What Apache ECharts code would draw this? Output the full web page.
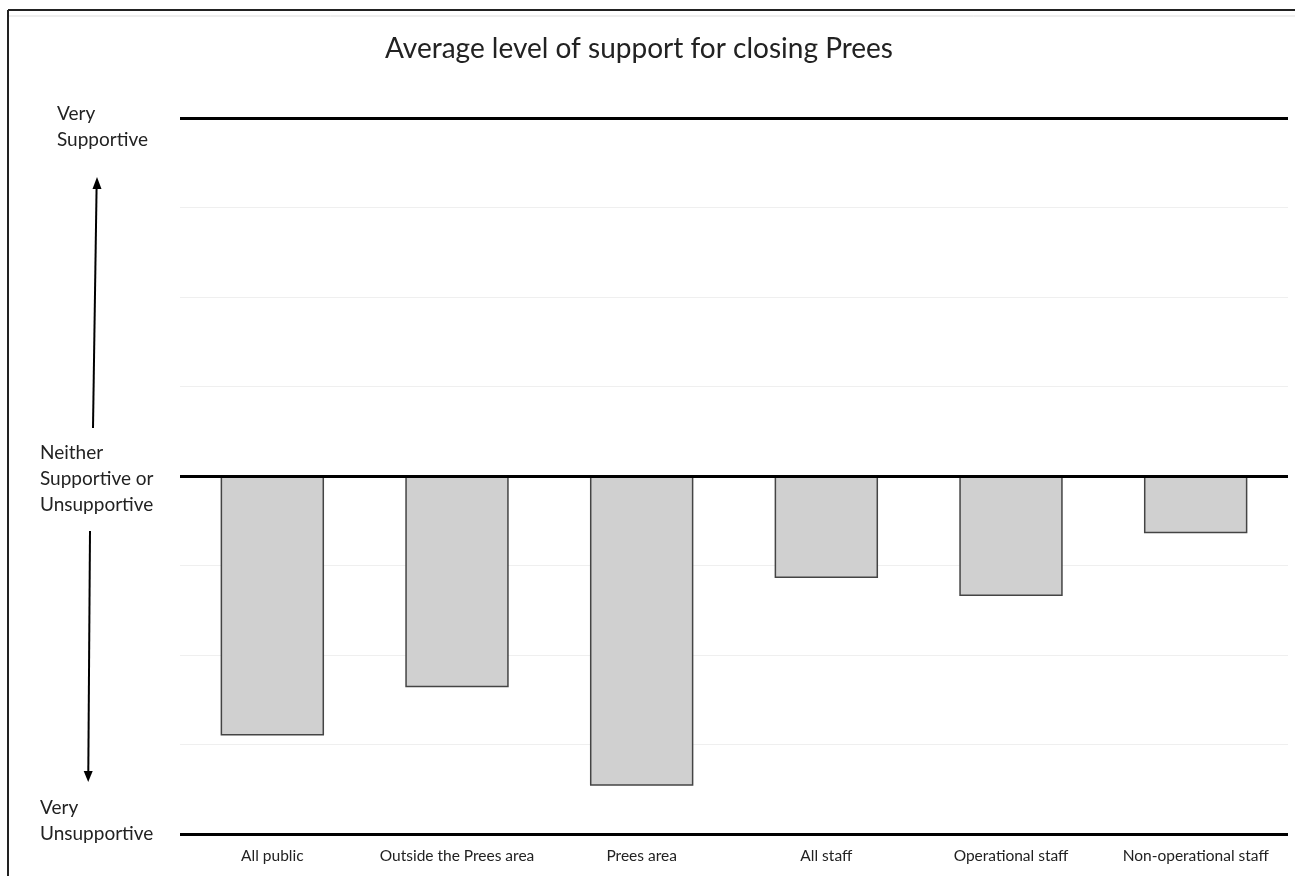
<!DOCTYPE html>
<html>
<head>
<meta charset="utf-8">
<script src="https://cdn.jsdelivr.net/npm/echarts@6/dist/echarts.min.js"></script>
<style>
  html, body { margin: 0; padding: 0; background: #fff; }
  #chart { width: 1295px; height: 876px; }
</style>
</head>
<body>
<div id="chart"></div>
<script>
// Groups surveyed
const categories = ['All public', 'Outside the Prees area', 'Prees area', 'All staff', 'Operational staff', 'Non-operational staff'];
// Average support score: -2 = very unsupportive, 0 = neutral, +2 = very supportive
const supportScores = [-1.45, -1.18, -1.73, -0.57, -0.67, -0.32];
// Scale anchors and their wording
const scaleValues = [2, 0, -2];
const scaleLabels = ['Very\nSupportive', 'Neither\nSupportive or\nUnsupportive', 'Very\nUnsupportive'];

const FONT = 'Lato, "Open Sans", sans-serif';
const chart = echarts.init(document.getElementById('chart'));

const richStyles = {
  top: { fontFamily: FONT, fontSize: 19, lineHeight: 26, color: '#222', padding: [18, 0, 0, 17] },
  mid: { fontFamily: FONT, fontSize: 19, lineHeight: 26, color: '#222', padding: [6, 0, 0, 0] },
  bot: { fontFamily: FONT, fontSize: 19, lineHeight: 26, color: '#222', padding: [0, 0, 26, 0] }
};
const richKeys = ['top', 'mid', 'bot'];

chart.setOption({
  animation: false,
  backgroundColor: '#fff',
  title: {
    text: 'Average level of support for closing Prees',
    left: 380,
    top: 30,
    textStyle: { fontFamily: FONT, fontSize: 28, fontWeight: 'normal', color: '#222' }
  },
  grid: { left: 180, right: 7, top: 118, bottom: 42, containLabel: false },
  xAxis: {
    type: 'category',
    data: categories,
    axisLine: { show: false },
    axisTick: { show: false },
    axisLabel: { interval: 0, fontFamily: FONT, fontSize: 15.5, color: '#222', margin: 14 }
  },
  yAxis: {
    type: 'value',
    min: -2,
    max: 2,
    interval: 0.5,
    axisLine: { show: false },
    axisTick: { show: false },
    splitLine: { lineStyle: { color: '#efefef', width: 1 } },
    axisLabel: {
      align: 'left',
      margin: 140,
      verticalAlign: 'middle',
      rich: richStyles,
      formatter: function (v) {
        const i = scaleValues.indexOf(v);
        if (i < 0) return '';
        return scaleLabels[i].split('\n').map(function (s) {
          return '{' + richKeys[i] + '|' + s + '}';
        }).join('\n');
      }
    }
  },
  series: [{
    type: 'bar',
    data: supportScores,
    barWidth: '56%',
    itemStyle: { color: '#d0d0d0', borderColor: '#444', borderWidth: 1.5 },
    markLine: {
      silent: true,
      symbol: 'none',
      label: { show: false },
      lineStyle: { color: '#000', width: 3, type: 'solid' },
      data: scaleValues.map(function (v) { return { yAxis: v }; })
    }
  }],
  graphic: [
    // frame
    { type: 'line', shape: { x1: 8, y1: 10, x2: 1295, y2: 10 }, style: { stroke: '#222', lineWidth: 2 } },
    { type: 'line', shape: { x1: 9, y1: 16, x2: 1295, y2: 16 }, style: { stroke: '#ddd', lineWidth: 1 } },
    { type: 'line', shape: { x1: 8, y1: 10, x2: 8, y2: 876 }, style: { stroke: '#222', lineWidth: 2 } },
    // upward arrow
    { type: 'line', shape: { x1: 93, y1: 428, x2: 96.6, y2: 186 }, style: { stroke: '#000', lineWidth: 2 } },
    { type: 'polygon', shape: { points: [[97, 177], [92.5, 189], [101.5, 189]] }, style: { fill: '#000' } },
    // downward arrow
    { type: 'line', shape: { x1: 90, y1: 531, x2: 88.3, y2: 772 }, style: { stroke: '#000', lineWidth: 2 } },
    { type: 'polygon', shape: { points: [[88.2, 782], [83.7, 771], [92.7, 771]] }, style: { fill: '#000' } }
  ]
});
</script>
</body>
</html>
